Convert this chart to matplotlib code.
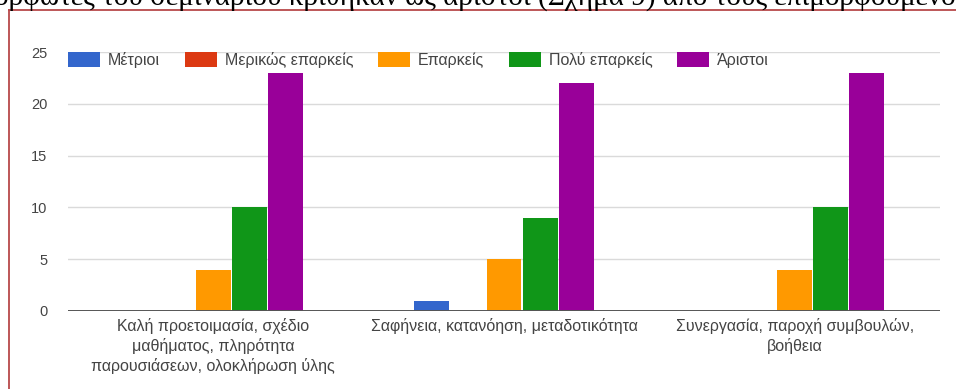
import matplotlib
matplotlib.use("Agg")
import matplotlib.pyplot as plt
import numpy as np
from matplotlib.lines import Line2D

plt.rcParams['font.family'] = ['Liberation Sans', 'DejaVu Sans']

# data
categories = [
    "Καλή προετοιμασία, σχέδιο\nμαθήματος, πληρότητα\nπαρουσιάσεων, ολοκλήρωση ύλης",
    "Σαφήνεια, κατανόηση, μεταδοτικότητα",
    "Συνεργασία, παροχή συμβουλών,\nβοήθεια",
]
series_names = ["Μέτριοι", "Μερικώς επαρκείς", "Επαρκείς", "Πολύ επαρκείς", "Άριστοι"]
metrioi = [0, 1, 0]
merikos = [0, 0, 0]
eparkeis = [4, 5, 4]
poly_eparkeis = [10, 9, 10]
aristoi = [23, 22, 23]
colors = ["#3366cc", "#dc3912", "#ff9900", "#109618", "#990099"]
yticks = [0, 5, 10, 15, 20, 25]
caption = "ορφωτές του σεμιναρίου κρίθηκαν ως άριστοι (Σχήμα 9) από τους επιμορφούμενους"

W, H = 956, 389
fig = plt.figure(figsize=(W / 100, H / 100), dpi=100)
fig.patch.set_facecolor("white")

# running text line above the framed chart
fig.text(-6 / W, 1 - 5 / H, caption, family="Liberation Serif", fontsize=21,
         color="black", ha="left", va="baseline")

# red frame (left and top edges)
fig.add_artist(Line2D([9 / W, 9 / W], [0, 1 - 10 / H], transform=fig.transFigure,
                      color="#b8494a", lw=1.3))
fig.add_artist(Line2D([9 / W, 1], [1 - 10 / H, 1 - 10 / H], transform=fig.transFigure,
                      color="#b8494a", lw=1.3))

ax = fig.add_axes([68 / W, 1 - 311 / H, (940 - 68) / W, (311 - 52) / H])
x = np.arange(len(categories))
width = 0.124
all_series = [metrioi, merikos, eparkeis, poly_eparkeis, aristoi]
for i, (name, vals) in enumerate(zip(series_names, all_series)):
    ax.bar(x + (i - 2) * width, vals, width * 0.97, color=colors[i], label=name, zorder=3)

ax.set_xlim(-0.5, 2.5)
ax.set_ylim(0, 25)
ax.set_yticks(yticks)
ax.yaxis.grid(True, color="#dadada", lw=1)
ax.axhline(0, color="#555555", lw=1.4, zorder=4)
for s in ax.spines.values():
    s.set_visible(False)
ax.tick_params(axis="both", length=0, colors="#444444", labelsize=10.5)
ax.tick_params(axis="y", pad=15)
ax.set_xticks(x)
ax.set_xticklabels(categories, linespacing=1.3, fontsize=11.5, va="top")
ax.tick_params(axis="x", pad=5)

leg = ax.legend(ncol=5, loc="upper left", bbox_to_anchor=(0.0, 1.0), frameon=False,
                fontsize=11.5, handlelength=2.0, handleheight=1.0, columnspacing=1.55,
                handletextpad=0.5, borderaxespad=0.0, borderpad=0.0)
for t in leg.get_texts():
    t.set_color("#444444")

fig.savefig("out.png", dpi=100)
